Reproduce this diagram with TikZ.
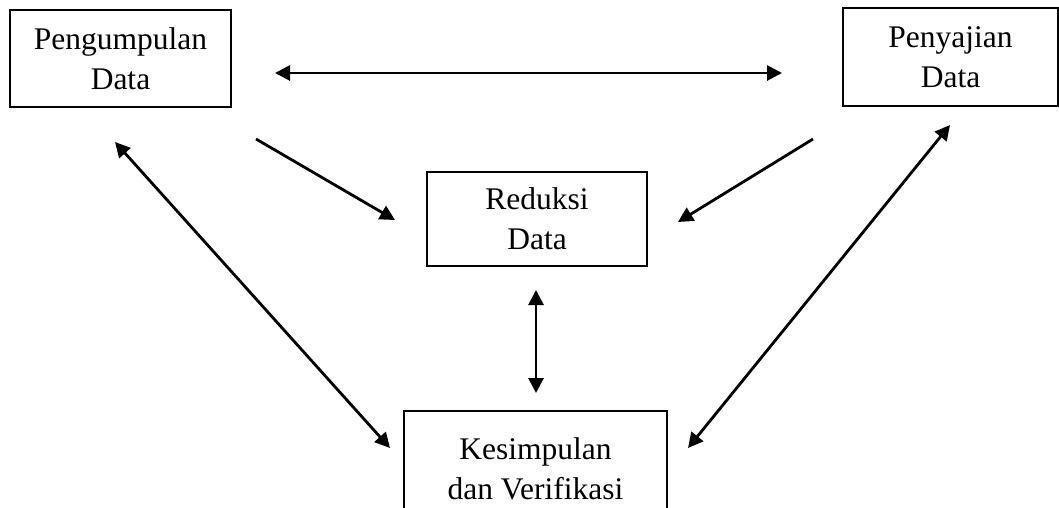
\documentclass[tikz,border=0pt]{standalone}
\usepackage{fontspec}
\setmainfont{Liberation Serif}
\usetikzlibrary{arrows.meta,positioning}

\begin{document}
\begin{tikzpicture}[x=1pt,y=-1pt,
every node/.style={draw,line width=2.8pt,align=center,inner sep=0pt,
font=\fontsize{31.5}{40}\selectfont},
panah/.style={line width=2.8pt,-{Triangle[length=15pt,width=15pt]}},
panahdua/.style={line width=2.8pt,{Triangle[length=15pt,width=15pt]}-{Triangle[length=15pt,width=15pt]}}]
\clip (0,0) rectangle (1059,507);
\node[minimum width=221pt,minimum height=97pt] (PD) at (120.5,58.5) {Pengumpulan\\Data};
\node[minimum width=215pt,minimum height=98pt] (SD) at (950.5,57) {Penyajian\\Data};
\node[minimum width=220pt,minimum height=94pt] (RD) at (537,219) {Reduksi\\Data};
\node[minimum width=263pt,minimum height=116pt] (KV) at (535.5,469) {Kesimpulan\\dan Verifikasi};
\coordinate (H1) at (275,73);
\coordinate (H2) at (782,73);
\coordinate (D1) at (256,139);
\coordinate (D2) at (395,220);
\coordinate (D3) at (813,139);
\coordinate (D4) at (678,222);
\coordinate (V1) at (536,290);
\coordinate (V2) at (536,393);
\coordinate (L1) at (115,142);
\coordinate (L2) at (390,448);
\coordinate (R1) at (950,125);
\coordinate (R2) at (688,448);
\draw[panahdua] (H1)--(H2);
\draw[panah] (D1)--(D2);
\draw[panah] (D3)--(D4);
\draw[panahdua] (V1)--(V2);
\draw[panahdua] (L1)--(L2);
\draw[panahdua] (R1)--(R2);
\end{tikzpicture}
\end{document}
